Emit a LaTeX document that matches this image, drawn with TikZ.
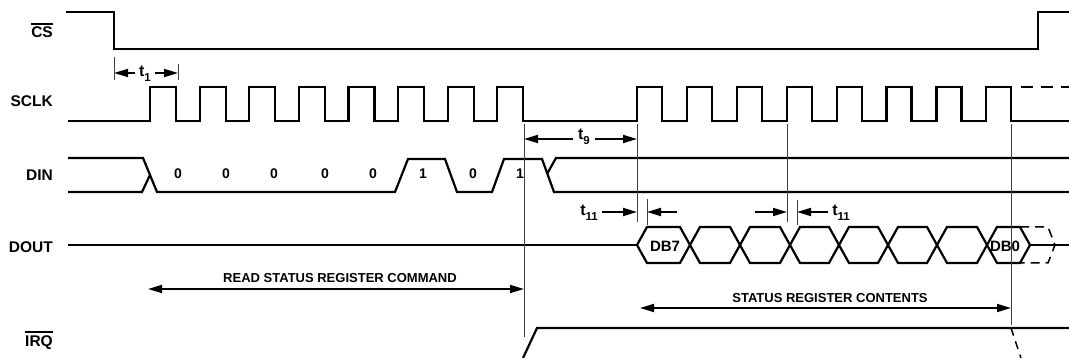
\documentclass[tikz,border=0pt]{standalone}
\usepackage{fontspec}
\setmainfont{Liberation Sans}
\usetikzlibrary{arrows.meta}
\newcommand\ovl[1]{\leavevmode\vbox{\hrule height 1.4pt\kern 2.6pt\hbox{#1}}}
\newcommand\tlab[1]{t\raisebox{-5pt}{\fontsize{11.5}{12}\selectfont #1}}

\begin{document}
\begin{tikzpicture}[x=1pt,y=-1pt,
>={Triangle[length=14pt,width=8pt]},
sig/.style={line width=2.2pt},
sigdash/.style={line width=1.5pt,dash pattern=on 9pt off 6pt},
guide/.style={line width=1pt,black!75},
dim/.style={line width=1.8pt},
signame/.style={anchor=base east,inner sep=0pt,font=\fontsize{15.5}{17}\selectfont\bfseries},
bit/.style={anchor=base,inner sep=0pt,font=\fontsize{14}{16}\selectfont\bfseries},
cell/.style={anchor=base,inner sep=0pt,font=\fontsize{15}{17}\selectfont\bfseries},
tname/.style={anchor=base,inner sep=4pt,font=\fontsize{16}{18}\selectfont\bfseries},
note/.style={anchor=base,inner sep=0pt,font=\fontsize{13}{15}\selectfont\bfseries}]

\useasboundingbox (0,0) rectangle (1069,358);

% signal names
\node[signame] (cs) at (53,38) {\ovl{CS}};
\node[signame] (sclk) at (53,107) {SCLK};
\node[signame] (din) at (53,181) {DIN};
\node[signame] (dout) at (53,253) {DOUT};
\node[signame] (irq) at (53,346) {\ovl{IRQ}};

% CS
\draw[sig] (66,12) -- (114,12) -- (114,49) -- (1038,49) -- (1038,12) -- (1069,12);

% SCLK
\draw[sig] (68,121)
  foreach \i in {0,...,7}{ -- ({150+49.6*\i},121) -- ++(0,-34) -- ++(26,0) -- ++(0,34)}
  foreach \i in {0,...,7}{ -- ({637+49.9*\i},121) -- ++(0,-34) -- ++(25,0) -- ++(0,34)}
  -- (1069,121);
\draw[sigdash,dash pattern=on 12pt off 8pt] (1021,87) -- (1069,87);

% DIN
\draw[sig] (68,158) -- (143,158) -- (157,192) -- (395,192) -- (408,159) -- (445,159)
  -- (457,192) -- (492,192) -- (504,159) -- (542,159) -- (554,192) -- (1069,192);
\draw[sig] (68,192) -- (142,192) -- (150,175);
\draw[sig] (547,174) -- (556,158) -- (1069,158);
\foreach \x/\b [count=\k] in {178/0,226/0,274/0,325/0,373/0,423/1,473/0,520/1}
  \node[bit] (bit\k) at (\x,179) {\b};

% DOUT
\draw[sig] (68,245) -- (637,245);
\foreach \a/\b in {637/690,690/740,740/790,790/839,839/888,888/937,937/987,987/1030}
  \draw[sig] (\a,245) -- (\a+10,227) -- (\b-10,227) -- (\b,245) -- (\b-10,263) -- (\a+10,263) -- cycle;
\draw[sig] (1030,245) -- (1069,245);
\draw[sigdash] (1020,227) -- (1048,227) -- (1055,245) -- (1048,263) -- (1020,263);
\node[cell] (db7) at (665,252) {DB7};
\node[cell] (db0) at (1005,252) {DB0};

% IRQ
\draw[sig] (523,358) -- (537,328) -- (1069,328);
\draw[sigdash,dash pattern=on 8pt off 6pt] (1011,328) -- (1021,358);

% timing lines
\draw[guide] (524,124) -- (524,337);
\draw[guide] (637,124) -- (637,222);
\draw[guide] (787,124) -- (787,222);
\draw[guide] (1011,124) -- (1011,325);
\draw[guide] (114,57) -- (114,80);
\draw[guide] (178,64) -- (178,80);
\draw[guide] (647,199) -- (647,225);
\draw[guide] (797,200) -- (797,225);

\coordinate (tone l) at (114,73);
\coordinate (tone r) at (178,73);
\coordinate (tnine l) at (524,139);
\coordinate (tnine r) at (637,139);
\coordinate (televa r) at (637,212);
\coordinate (televa s) at (677,212);
\coordinate (televa e) at (647,212);
\coordinate (televb s) at (755,212);
\coordinate (televb r) at (787,212);
\coordinate (televb e) at (797,212);
\coordinate (cmd l) at (148,289);
\coordinate (cmd r) at (524,289);
\coordinate (cont l) at (640,308);
\coordinate (cont r) at (1011,308);

% timing labels
\node[tname] (tone) at (145,77) {\tlab{1}};
\draw[dim,->] (tone.west |- tone l) -- (tone l);
\draw[dim,->] (tone.east |- tone r) -- (tone r);

\node[tname,inner sep=5pt] (tnine) at (584,140) {\tlab{9}};
\draw[dim,->] (tnine.west |- tnine l) -- (tnine l);
\draw[dim,->] (tnine.east |- tnine r) -- (tnine r);

\node[tname] (televa) at (589,216) {\tlab{11}};
\draw[dim,->] (televa.east |- televa r) -- (televa r);
\draw[dim,->] (televa s) -- (televa e);

\node[tname] (televb) at (841,216) {\tlab{11}};
\draw[dim,->] (televb s) -- (televb r);
\draw[dim,->] (televb.west |- televb e) -- (televb e);

% phases
\node[note] (readcmd) at (340,283) {READ STATUS REGISTER COMMAND};
\draw[dim,<->] (cmd l) -- (cmd r);
\node[note] (contents) at (830,303) {STATUS REGISTER CONTENTS};
\draw[dim,<->] (cont l) -- (cont r);

\end{tikzpicture}
\end{document}
